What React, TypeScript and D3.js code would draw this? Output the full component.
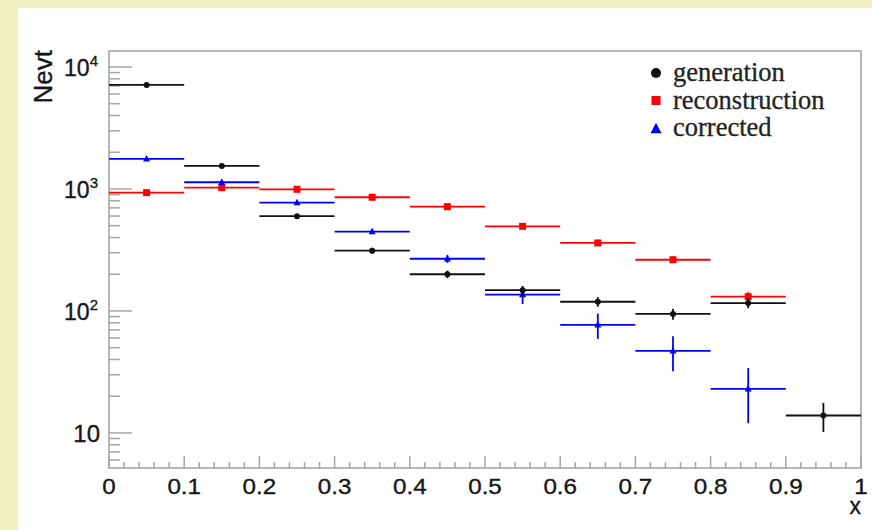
import React from "react";
import * as d3 from "d3";

// Bin centres of the x histogram (width 0.1)
const binCenters = [0.05, 0.15, 0.25, 0.35, 0.45, 0.55, 0.65, 0.75, 0.85, 0.95];
const binWidth = 0.1;

// Event counts per bin
const generation = [7120, 1545, 598, 312, 200, 148, 119, 94.5, 116, 13.9];
const reconstruction = [933, 1025, 994, 855, 716, 494, 361, 263, 131, null];
const corrected = [1762, 1135, 772, 447, 268, 136, 77, 47, 23, null];
const correctedErr = [40, 35, 30, 20, 20, 22, 18, 15, 11, null];

const xTickValues = [0, 0.1, 0.2, 0.3, 0.4, 0.5, 0.6, 0.7, 0.8, 0.9, 1];
const xTickLabels = ["0", "0.1", "0.2", "0.3", "0.4", "0.5", "0.6", "0.7", "0.8", "0.9", "1"];
const yDecades = [10, 100, 1000, 10000];
const yDecadeExponents = ["1", "2", "3", "4"];

const legendLabels = ["generation", "reconstruction", "corrected"];

const W = 872;
const H = 530;
const frame = { left: 109, right: 861, top: 51, bottom: 468 };

const x = d3.scaleLinear().domain([0, 1]).range([frame.left, frame.right]);
const y = d3
  .scaleLog()
  .domain([5.16, 13520])
  .range([frame.bottom, frame.top]);

const axisColor = "#a6a6a6";
const textColor = "#161616";
const sans = "'Liberation Sans', Arial, Helvetica, sans-serif";
const serif = "'Liberation Serif', 'Times New Roman', serif";

type Series = {
  values: (number | null)[];
  errors: (number | null)[];
  color: string;
  marker: "circle" | "square" | "triangle";
};

const series: Series[] = [
  {
    values: reconstruction,
    errors: reconstruction.map((v) => (v == null ? null : Math.sqrt(v))),
    color: "#ff0000",
    marker: "square",
  },
  {
    values: corrected,
    errors: correctedErr,
    color: "#0000ff",
    marker: "triangle",
  },
  {
    values: generation,
    errors: generation.map((v) => Math.sqrt(v)),
    color: "#111111",
    marker: "circle",
  },
];

function Marker({ kind, cx, cy, size, color }: { kind: string; cx: number; cy: number; size: number; color: string }) {
  if (kind === "circle") return <circle cx={cx} cy={cy} r={size / 2} fill={color} />;
  if (kind === "square")
    return <rect x={cx - size / 2} y={cy - size / 2} width={size} height={size} fill={color} />;
  const h = size * 0.95;
  const pts = `${cx},${cy - h * 0.6} ${cx + size / 2},${cy + h * 0.4} ${cx - size / 2},${cy + h * 0.4}`;
  return <polygon points={pts} fill={color} />;
}

export default function App() {
  // minor log ticks 2..9 × each decade inside the range
  const yMinor: number[] = [];
  for (const dec of [1, 10, 100, 1000, 10000]) {
    for (let k = 2; k <= 9; k++) {
      const v = k * dec;
      if (v >= y.domain()[0] && v <= y.domain()[1]) yMinor.push(v);
    }
  }
  const xMinor = d3.range(0, 1.0001, 0.02).filter((v) => Math.abs(v * 10 - Math.round(v * 10)) > 1e-6);

  const labelStroke = { stroke: textColor, strokeWidth: 0.35 };

  return (
    <svg
      width={W}
      height={H}
      style={{ position: "absolute", left: 0, top: 0, display: "block" }}
    >
      <rect x={0} y={0} width={W} height={H} fill="#f2efc3" />
      <rect x={18} y={8} width={W - 18} height={H - 8} fill="#ffffff" />

      {/* frame */}
      <rect
        x={frame.left}
        y={frame.top}
        width={frame.right - frame.left}
        height={frame.bottom - frame.top}
        fill="none"
        stroke={axisColor}
        strokeWidth={1.6}
      />

      {/* y ticks */}
      {yDecades.map((v) => (
        <line key={"ym" + v} x1={frame.left} x2={frame.left + 23} y1={y(v)} y2={y(v)} stroke={axisColor} strokeWidth={1.5} />
      ))}
      {yMinor.map((v) => (
        <line key={"yn" + v} x1={frame.left} x2={frame.left + 11} y1={y(v)} y2={y(v)} stroke={axisColor} strokeWidth={1.5} />
      ))}

      {/* x ticks */}
      {xTickValues.map((v) => (
        <line key={"xm" + v} x1={x(v)} x2={x(v)} y1={frame.bottom} y2={frame.bottom - 12} stroke={axisColor} strokeWidth={1.5} />
      ))}
      {xMinor.map((v) => (
        <line key={"xn" + v} x1={x(v)} x2={x(v)} y1={frame.bottom} y2={frame.bottom - 6} stroke={axisColor} strokeWidth={1.5} />
      ))}

      {/* x tick labels */}
      {xTickValues.map((v, i) => (
        <text
          key={"xl" + v}
          transform={`translate(${x(v)},494) scale(1.1,1)`}
          textAnchor="middle"
          fontFamily={sans}
          fontSize={22}
          fill={textColor}
          {...labelStroke}
        >
          {xTickLabels[i]}
        </text>
      ))}

      {/* y tick labels */}
      {yDecades.map((v, i) =>
        v === 10 ? (
          <text key={"yl" + v} x={100} y={y(v) + 9} textAnchor="end" fontFamily={sans} fontSize={24} fill={textColor} {...labelStroke}>
            10
          </text>
        ) : (
          <text key={"yl" + v} x={98} y={y(v) + 9} textAnchor="end" fontFamily={sans} fontSize={23} fill={textColor} {...labelStroke}>
            10
            <tspan fontSize={15} dy={-10}>
              {yDecadeExponents[i]}
            </tspan>
          </text>
        )
      )}

      {/* axis titles */}
      <text transform={`translate(52,50) rotate(-90)`} textAnchor="end" fontFamily={sans} fontSize={26} fill={textColor} {...labelStroke}>
        Nevt
      </text>
      <text x={861} y={514} textAnchor="end" fontFamily={sans} fontSize={23} fill={textColor} {...labelStroke}>
        x
      </text>

      {/* data */}
      {series.map((s, si) => (
        <g key={"s" + si}>
          {s.values.map((v, i) => {
            if (v == null) return null;
            const e = s.errors[i] ?? 0;
            const cx = x(binCenters[i]);
            const cy = y(v);
            const lo = Math.max(v - e, y.domain()[0]);
            return (
              <g key={i}>
                <line
                  x1={x(binCenters[i] - binWidth / 2)}
                  x2={x(binCenters[i] + binWidth / 2)}
                  y1={cy}
                  y2={cy}
                  stroke={s.color}
                  strokeWidth={1.8}
                />
                <line x1={cx} x2={cx} y1={y(v + e)} y2={y(lo)} stroke={s.color} strokeWidth={1.8} />
                <Marker kind={s.marker} cx={cx} cy={cy} size={s.marker === "circle" ? 6 : 7} color={s.color} />
              </g>
            );
          })}
        </g>
      ))}

      {/* legend */}
      {legendLabels.map((label, i) => {
        const s = series[[2, 0, 1][i]];
        const cy = 73 + i * 27.5;
        return (
          <g key={"lg" + i}>
            <Marker kind={s.marker} cx={656} cy={cy + (s.marker === "triangle" ? 1 : 0)} size={s.marker === "circle" ? 10 : s.marker === "square" ? 9 : 11} color={s.color} />
            <text x={673} y={cy + 8} fontFamily={serif} fontSize={26.5} fill="#222" stroke="#222" strokeWidth={0.3}>
              {label}
            </text>
          </g>
        );
      })}
    </svg>
  );
}
